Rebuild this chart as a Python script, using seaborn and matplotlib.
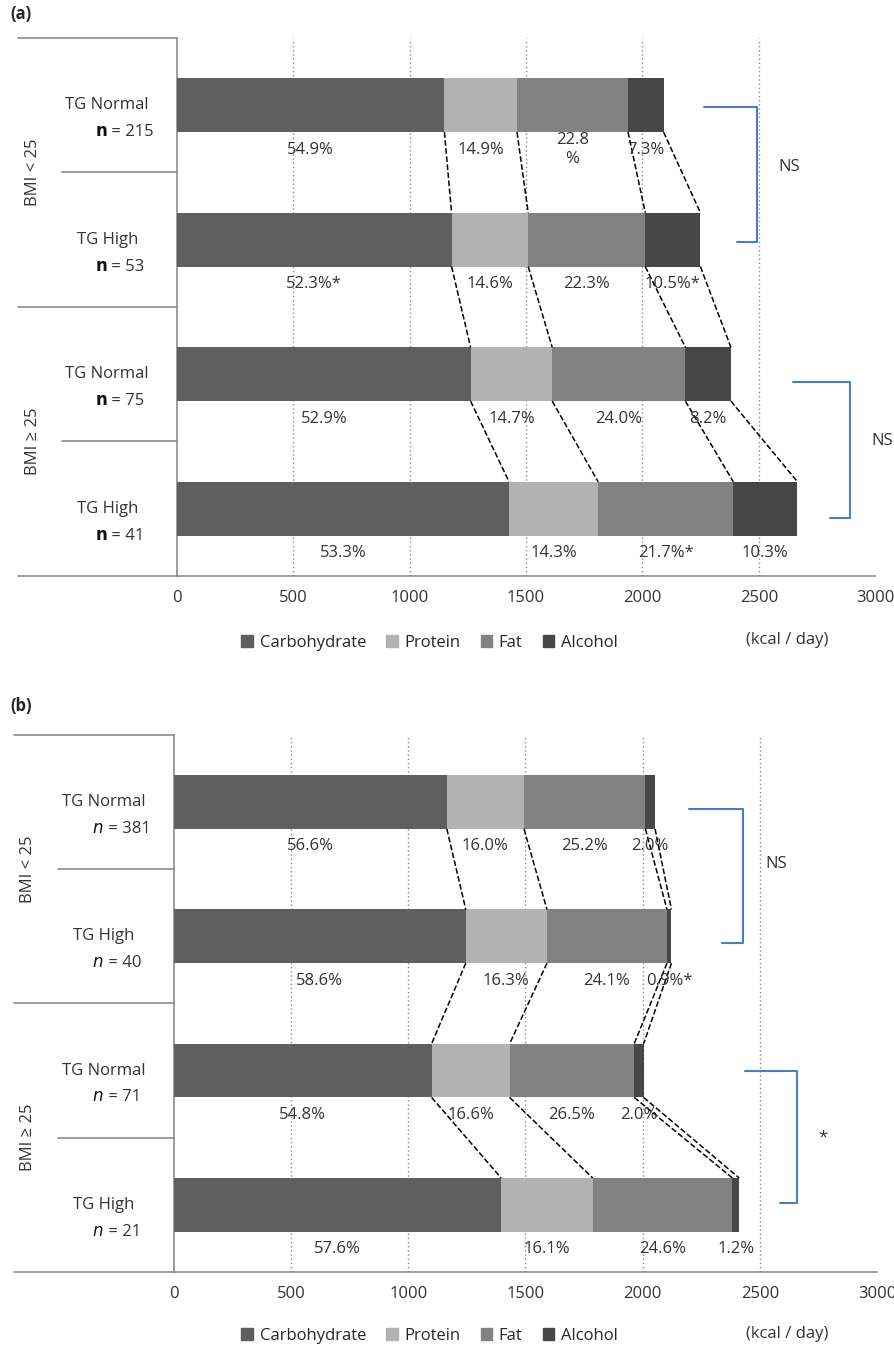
import numpy as np
import pandas as pd
import matplotlib
matplotlib.use("Agg")
import matplotlib.pyplot as plt
import seaborn as sns
from matplotlib.patches import Patch

sns.set_style("white")
plt.rcParams['font.family'] = ['Open Sans', 'DejaVu Sans']

nutrients = ['Carbohydrate', 'Protein', 'Fat', 'Alcohol']
colors = ['#5f5f5f', '#b2b2b2', '#828282', '#474747']
rows = ['r0', 'r1', 'r2', 'r3']
tg_labels = ['TG Normal', 'TG High', 'TG Normal', 'TG High']
bmi_labels = ['BMI < 25', 'BMI ≥ 25']

# panel (a)
totals_a = [2093, 2256, 2385, 2677]
pct_a = [[54.9, 14.9, 22.8, 7.3], [52.3, 14.6, 22.3, 10.5],
         [52.9, 14.7, 24.0, 8.2], [53.3, 14.3, 21.7, 10.3]]
pct_text_a = [['54.9%', '14.9%', '22.8\n%', '7.3%'], ['52.3%*', '14.6%', '22.3%', '10.5%*'],
              ['52.9%', '14.7%', '24.0%', '8.2%'], ['53.3%', '14.3%', '21.7%*', '10.3%']]
n_a = [215, 53, 75, 41]

# panel (b)
totals_b = [2057, 2125, 2006, 2424]
pct_b = [[56.6, 16.0, 25.2, 2.0], [58.6, 16.3, 24.1, 0.9],
         [54.8, 16.6, 26.5, 2.0], [57.6, 16.1, 24.6, 1.2]]
pct_text_b = [['56.6%', '16.0%', '25.2%', '2.0%'], ['58.6%', '16.3%', '24.1%', '0.9%*'],
              ['54.8%', '16.6%', '26.5%', '2.0%'], ['57.6%', '16.1%', '24.6%', '1.2%']]
n_b = [381, 40, 71, 21]

BLUE = '#4a7ebf'
GRAY = '#8c8c8c'


def draw_panel(ax, totals, pct, pct_text, n_vals, bold_n, brackets):
    kcal = np.array(totals)[:, None] * np.array(pct) / 100.0
    cum = np.cumsum(kcal, axis=1)
    df = pd.DataFrame(cum, columns=nutrients)
    df['row'] = rows
    for i in range(3, -1, -1):
        sns.barplot(data=df, x=nutrients[i], y='row', orient='h', color=colors[i],
                    width=0.4, saturation=1, linewidth=0, ax=ax, zorder=3)
    ax.set_xlim(0, 3000)
    ax.set_ylim(3.5, -0.5)
    ax.set_xlabel('')
    ax.set_ylabel('')
    ax.set_yticks([])
    ax.set_xticks(range(0, 3001, 500))
    ax.tick_params(axis='x', labelsize=12, colors='#333333', length=0, pad=10)
    for x in range(500, 2501, 500):
        ax.axvline(x, color='#888888', ls=(0, (1, 2)), lw=1, zorder=1)
    for s in ['top', 'right']:
        ax.spines[s].set_visible(False)
    for s in ['left', 'bottom']:
        ax.spines[s].set_color(GRAY)
        ax.spines[s].set_linewidth(1.2)
    # percent labels
    for r in range(4):
        starts = np.concatenate([[0], cum[r, :-1]])
        for j in range(4):
            xc = (starts[j] + cum[r, j]) / 2
            ax.text(xc, r + 0.33, pct_text[r][j], ha='center', va='center',
                    fontsize=12, color='#333333', zorder=5)
    # connectors
    for r in range(3):
        for j in range(4):
            ax.plot([cum[r, j], cum[r + 1, j]], [r + 0.2, r + 0.8], color='black',
                    ls='--', lw=1.1, zorder=4)
    # left labels
    trans = ax.get_yaxis_transform()
    for r in range(4):
        ax.text(-0.1, r, tg_labels[r], transform=trans, ha='center', va='center',
                fontsize=12, color='#333333')
        ax.text(-0.1, r + 0.2, r'$\mathbf{n}$' if bold_n else r'$n$', transform=trans,
                ha='right', va='center', fontsize=12, color='#111111')
        ax.text(-0.1, r + 0.2, f' = {n_vals[r]}', transform=trans, ha='left',
                va='center', fontsize=12, color='#333333')
    for yv, x0 in [(-0.5, -0.228), (0.5, -0.165), (1.5, -0.228), (2.5, -0.165), (3.5, -0.228)]:
        ax.plot([x0, 0], [yv, yv], transform=trans, color=GRAY, lw=1.2, clip_on=False)
    for g in range(2):
        ax.text(-0.207, 2 * g + 0.5, bmi_labels[g], transform=trans, rotation=90,
                ha='center', va='center', fontsize=12, color='#333333')
    # brackets
    for (xs_top, xs_bot, xb, y0, y1, lab, lx, ly) in brackets:
        ax.plot([xs_top, xb, xb, xs_bot], [y0, y0, y1, y1], color=BLUE, lw=1.5,
                clip_on=False, zorder=5)
        ax.text(lx, ly, lab, ha='center', va='center', fontsize=12, color='#333333',
                clip_on=False)


fig = plt.figure(figsize=(8.95, 13.47), dpi=100)
ax_a = fig.add_axes([0.1978, 0.5724, 0.780, 0.3994])
ax_b = fig.add_axes([0.1944, 0.0557, 0.7855, 0.3987])

draw_panel(ax_a, totals_a, pct_a, pct_text_a, n_a, True,
           [(2265, 2407, 2493, 0.01, 1.02, 'NS', 2630, 0.46),
            (2647, 2806, 2892, 2.06, 3.07, 'NS', 3030, 2.5)])
draw_panel(ax_b, totals_b, pct_b, pct_text_b, n_b, False,
           [(2198, 2339, 2428, 0.05, 1.05, 'NS', 2569, 0.46),
            (2437, 2586, 2659, 2.0, 2.99, '*', 2770, 2.5)])

handles = [Patch(color=c, label=l) for c, l in zip(colors, nutrients)]
for yy in [1 - 643 / 1347, 1 - 1336 / 1347]:
    fig.legend(handles=handles, loc='center', bbox_to_anchor=(0.48, yy), ncol=4,
               frameon=False, fontsize=12, handlelength=0.7, handleheight=0.7,
               handletextpad=0.4, columnspacing=1.2)
fig.text(787 / 895, 1 - 640 / 1347, '(kcal / day)', ha='center', va='center', fontsize=12, color='#333333')
fig.text(787 / 895, 1 - 1334 / 1347, '(kcal / day)', ha='center', va='center', fontsize=12, color='#333333')
fig.text(10 / 895, 1 - 14 / 1347, '(a)', fontweight='bold', fontsize=12, va='center')
fig.text(10 / 895, 1 - 706 / 1347, '(b)', fontweight='bold', fontsize=12, va='center')

fig.savefig('out.png', dpi=100)
